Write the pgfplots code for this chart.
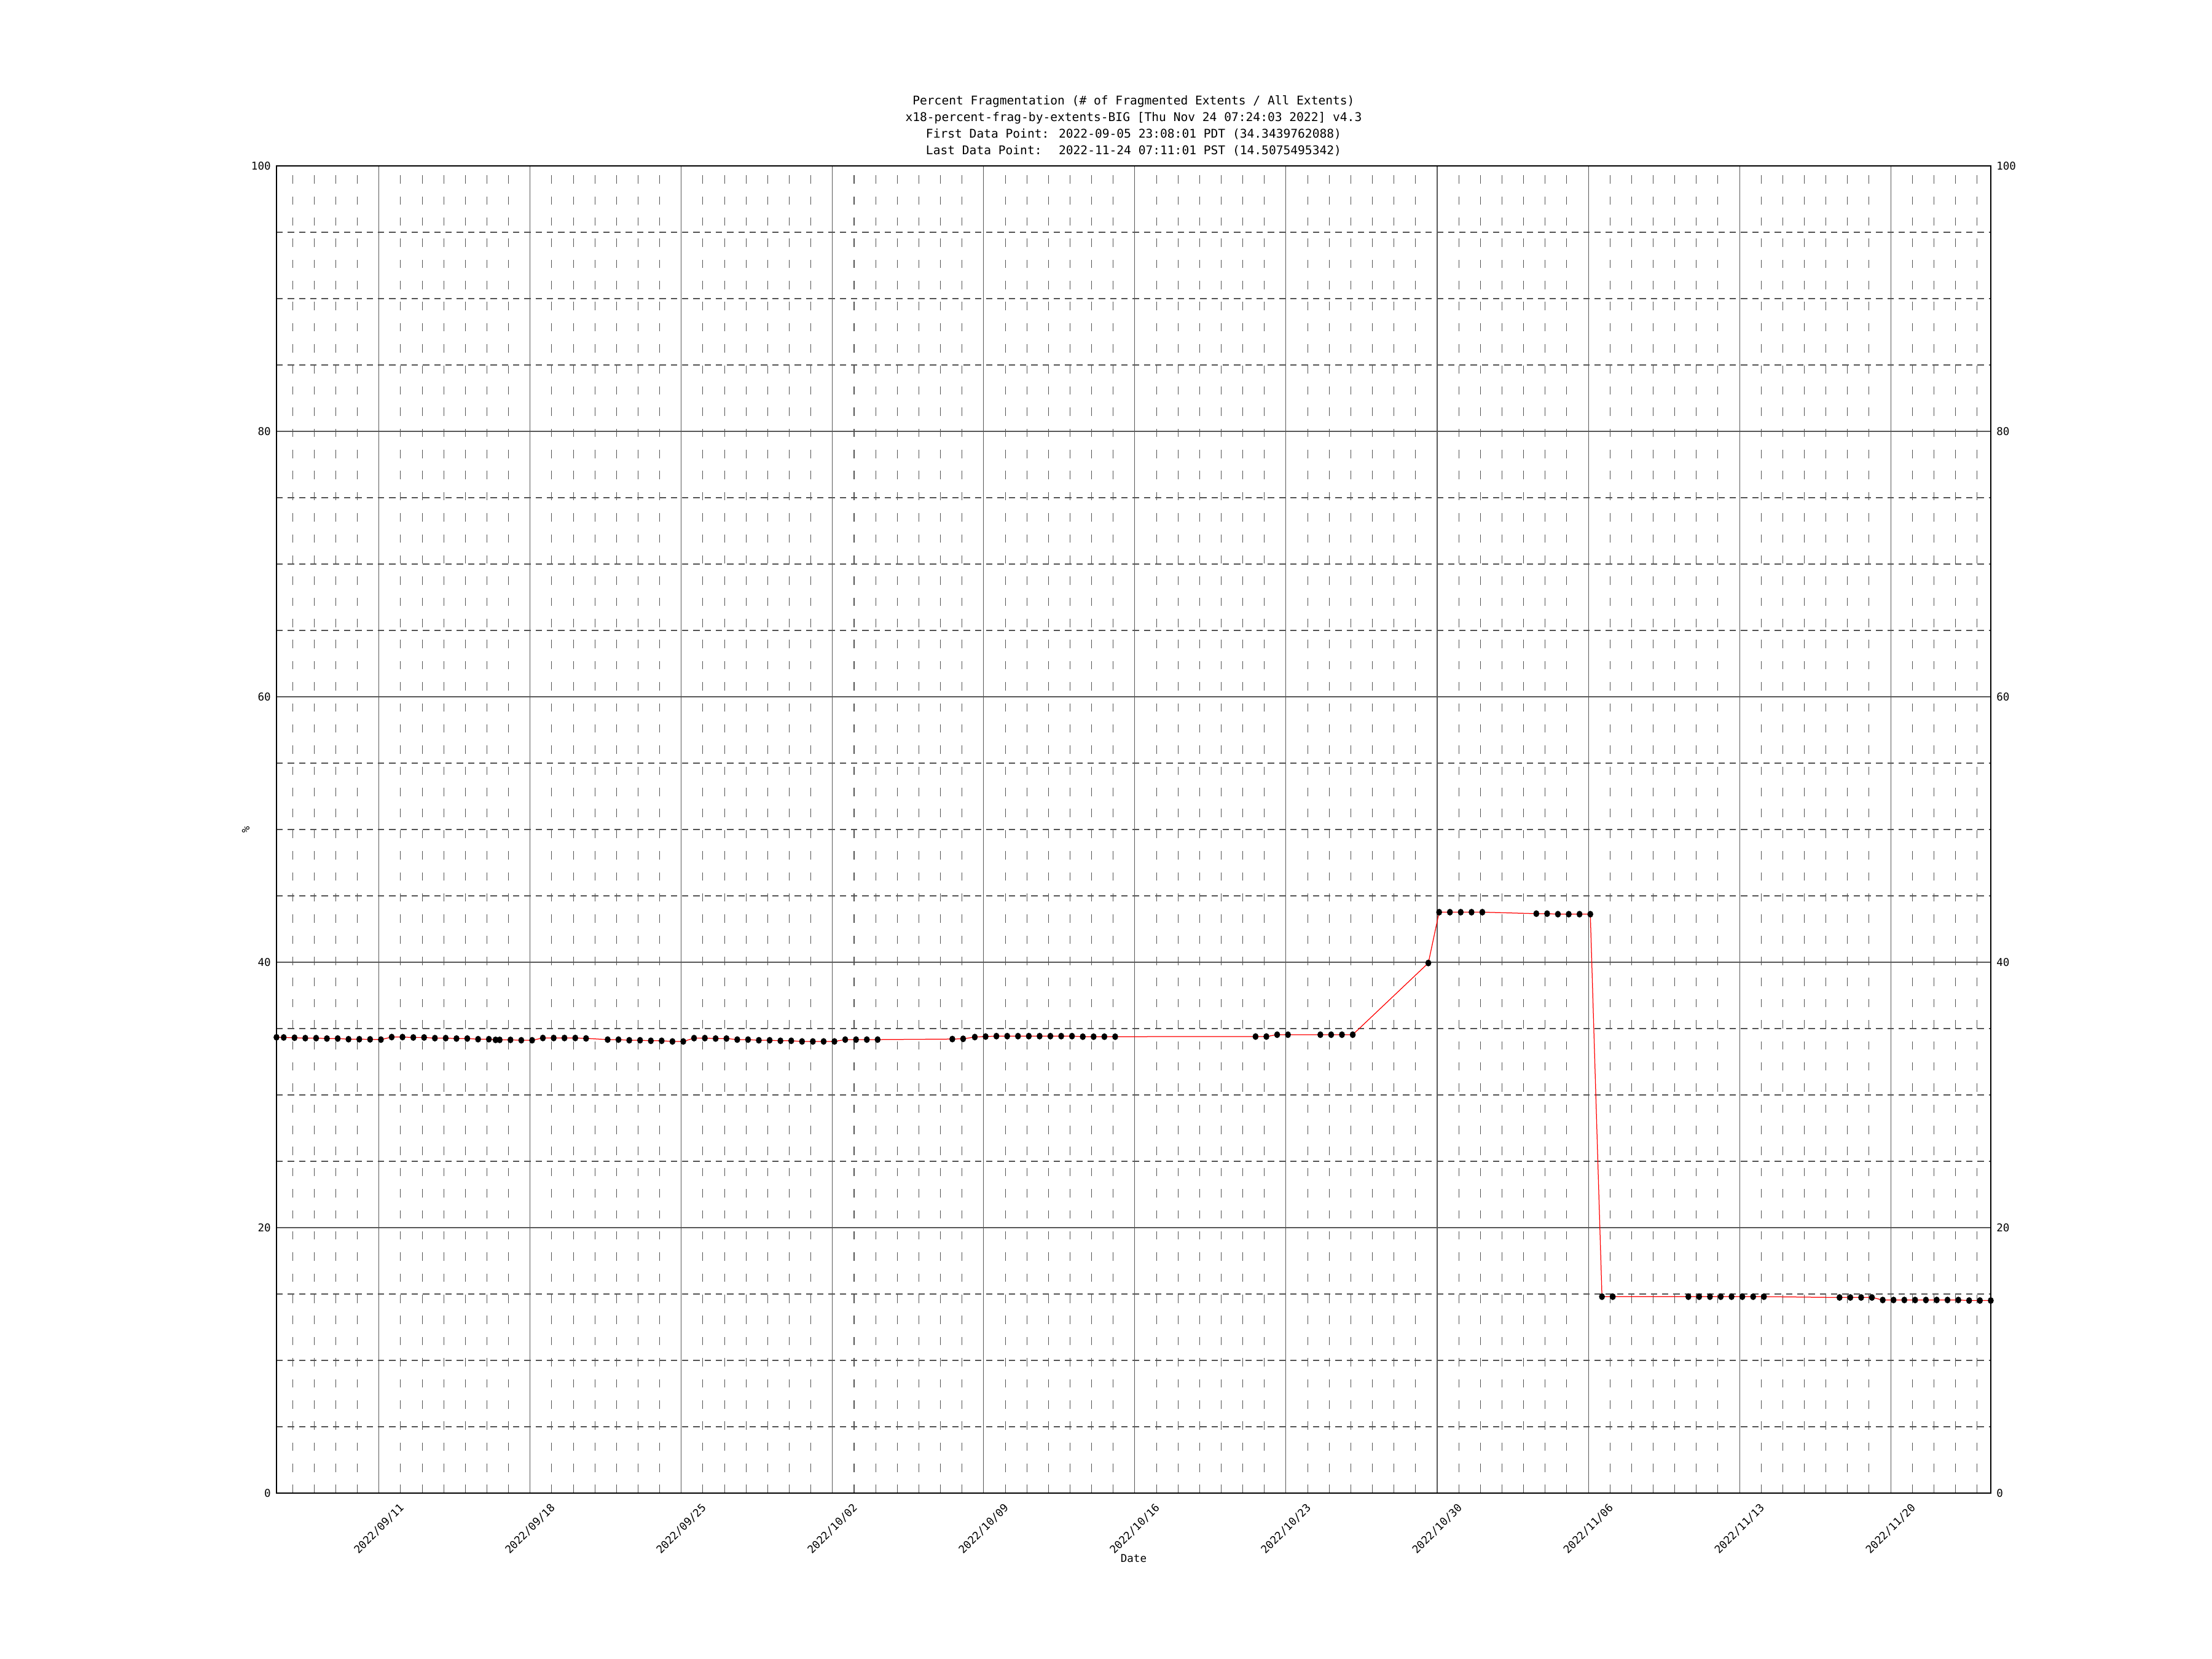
\documentclass[border=0pt]{standalone}
\usepackage{fontspec}
\setmainfont{DejaVu Sans Mono}
\usepackage{pgfplots}
\pgfplotsset{compat=1.18}
\newcommand{\tickfont}{\fontsize{8.4bp}{10bp}\selectfont}
\newcommand{\titlefont}{\fontsize{9.4bp}{13bp}\selectfont}
\begin{document}
\begin{tikzpicture}
\useasboundingbox (-216bp,-129.6bp) rectangle (1512bp,1166.4bp);
% background axis: horizontal grid + right labels
\begin{axis}[
  at={(0,0)}, anchor=south west,
  scale only axis, width=1339.2bp, height=1036.8bp,
  xmin=5.256, xmax=84.633, ymin=0, ymax=100,
  xtick=\empty,
  ytick={0,20,40,60,80,100},
  minor ytick={5,10,15,25,30,35,45,50,55,65,70,75,85,90,95},
  ymajorgrids, yminorgrids,
  major grid style={color=black!66, line width=0.5bp, solid},
  minor grid style={color=black!68, line width=0.5bp, dash pattern=on 5bp off 3.8bp},
  yticklabel pos=right,
  axis line style={draw=none},
  major tick length=0pt, minor tick length=0pt,
  yticklabel style={font=\tickfont, xshift=1bp},
  /pgf/number format/assume math mode=true,
]
\end{axis}
% main axis
\begin{axis}[
  at={(0,0)}, anchor=south west,
  scale only axis, width=1339.2bp, height=1036.8bp,
  xmin=5.256, xmax=84.633, ymin=0, ymax=100,
  xtick={10,17,24,31,38,45,52,59,66,73,80},
  xticklabels={2022/09/11,2022/09/18,2022/09/25,2022/10/02,2022/10/09,2022/10/16,2022/10/23,2022/10/30,2022/11/06,2022/11/13,2022/11/20},
  minor xtick={6,7,8,9,11,12,13,14,15,16,18,19,20,21,22,23,25,26,27,28,29,30,32,33,34,35,36,37,39,40,41,42,43,44,46,47,48,49,50,51,53,54,55,56,57,58,60,61,62,63,64,65,67,68,69,70,71,72,74,75,76,77,78,79,81,82,83,84},
  xmajorgrids, xminorgrids,
  major grid style={color=black!66, line width=0.5bp, solid},
  minor grid style={color=black!68, line width=0.5bp, dash pattern=on 6.5bp off 10bp},
  ytick={0,20,40,60,80,100},
  yticklabel pos=left,
  major tick length=0pt, minor tick length=0pt,
  axis line style={line width=1.1bp, black},
  yticklabel style={font=\tickfont, xshift=-1bp},
  xticklabel style={font=\tickfont, yshift=-28bp, rotate=45, anchor=center},
  /pgf/number format/assume math mode=true,
  title={Percent Fragmentation (\# of Fragmented Extents / All Extents)\\x18-percent-frag-by-extents-BIG [Thu Nov 24 07:24:03 2022] v4.3\\First Data Point: 2022-09-05 23:08:01 PDT (34.3439762088)\\Last Data Point:~ 2022-11-24 07:11:01 PST (14.5075495342)},
  title style={font=\titlefont, align=center, at={(rel axis cs:0.5,1)}, anchor=south, inner sep=0pt, yshift=1.5bp},
  xlabel={Date},
  xlabel style={font=\tickfont, at={(rel axis cs:0.5,0)}, anchor=center, yshift=-51bp},
  ylabel={\%},
  ylabel style={font=\tickfont, at={(rel axis cs:0,0.5)}, anchor=center, yshift=24bp},
]
\addplot[red, line width=0.6bp, mark=*, mark size=2bp, mark options={black, fill=black, yscale=1.15}] table[x=d, y=v] {
d v
5.256 34.344
5.59 34.33
6.09 34.31
6.59 34.28
7.09 34.28
7.59 34.25
8.09 34.25
8.59 34.20
9.09 34.20
9.59 34.19
10.09 34.17
10.59 34.36
11.09 34.36
11.59 34.33
12.09 34.33
12.59 34.28
13.09 34.28
13.59 34.25
14.09 34.25
14.59 34.20
15.09 34.20
15.40 34.15
15.59 34.15
16.09 34.15
16.59 34.12
17.09 34.12
17.59 34.29
18.09 34.29
18.59 34.29
19.09 34.29
19.59 34.26
20.59 34.17
21.09 34.17
21.59 34.12
22.09 34.12
22.59 34.08
23.09 34.08
23.59 34.03
24.09 34.03
24.59 34.28
25.09 34.28
25.59 34.25
26.09 34.25
26.59 34.17
27.09 34.17
27.59 34.12
28.09 34.12
28.59 34.08
29.09 34.08
29.59 34.03
30.09 34.03
30.59 34.03
31.09 34.03
31.59 34.17
32.09 34.17
32.59 34.17
33.09 34.17
36.55 34.21
37.05 34.23
37.59 34.36
38.09 34.40
38.59 34.43
39.09 34.43
39.59 34.43
40.09 34.43
40.59 34.43
41.09 34.43
41.59 34.43
42.09 34.43
42.59 34.39
43.09 34.39
43.59 34.39
44.09 34.39
50.59 34.40
51.09 34.40
51.59 34.54
52.09 34.54
53.59 34.54
54.09 34.54
54.59 34.54
55.09 34.54
58.59 39.94
59.09 43.77
59.59 43.77
60.09 43.77
60.59 43.77
61.09 43.77
63.59 43.66
64.09 43.66
64.59 43.62
65.09 43.62
65.59 43.62
66.09 43.62
66.63 14.80
67.13 14.80
70.63 14.80
71.13 14.80
71.63 14.80
72.13 14.80
72.63 14.80
73.13 14.80
73.63 14.80
74.13 14.80
77.63 14.74
78.13 14.74
78.63 14.74
79.13 14.74
79.63 14.55
80.13 14.55
80.63 14.55
81.13 14.55
81.63 14.55
82.13 14.55
82.63 14.55
83.13 14.55
83.63 14.51
84.13 14.51
84.633 14.5075
};
\end{axis}
\end{tikzpicture}
\end{document}
